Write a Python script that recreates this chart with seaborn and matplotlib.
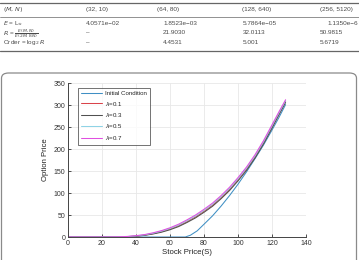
import matplotlib
matplotlib.use("Agg")
import matplotlib.pyplot as plt
import seaborn as sns
from matplotlib.patches import FancyBboxPatch
from matplotlib.lines import Line2D

sns.set_theme(style="white")
plt.rcParams["font.family"] = ["Liberation Sans", "DejaVu Sans"]
plt.rcParams["mathtext.fontset"] = "dejavusans"

# table data
col_heads = ["(32, 10)", "(64, 80)", "(128, 640)", "(256, 5120)"]
row_heads = [r"$E$ = L$_\infty$", r"$R$ = $\frac{E(M,N)}{E(2M,8N)}$", r"Order = log$_2$ $R$"]
err_vals = ["4.0571e\u221202", "1.8523e\u221203", "5.7864e\u221205", "1.1350e\u22126"]
ratio_vals = ["\u2013", "21.9030", "32.0113", "50.9815"]
order_vals = ["\u2013", "4.4531", "5.001", "5.6719"]

# curve data
s_init = [0, 69, 72, 76, 80, 85, 90, 95, 100, 105, 110, 115, 120, 124, 128]
v_init = [0, 0, 4, 14, 29, 48, 70, 94, 120, 148, 178, 209, 243, 271, 301]

s_lam = [0, 20, 25, 30, 35, 40, 45, 50, 55, 60, 65, 70, 75, 80, 85, 90, 95,
         100, 105, 110, 115, 120, 124, 128]
v_l01 = [0, 0, 0, 0.2, 0.9, 2.2, 4.3, 7.7, 12.1, 18, 25.4, 35, 45.6, 58.4, 72.2,
         89.2, 108, 130, 154, 182, 214, 250, 279, 308]
v_l03 = [0, 0, 0, 0.1, 0.7, 1.8, 3.7, 6.8, 10.9, 16.5, 23.6, 33, 43.4, 56.1, 69.8,
         86.8, 105.5, 127.5, 151.5, 179.5, 211.5, 247.5, 277, 306]
v_l05 = [0, 0, 0.1, 0.3, 1.1, 2.6, 4.9, 8.6, 13.3, 19.5, 27.2, 37, 47.8, 60.7, 74.6,
         91.6, 110.5, 132.5, 156.5, 184.5, 216.5, 252.5, 281.5, 310]
v_l07 = [0, 0, 0.1, 0.4, 1.3, 3, 5.5, 9.5, 14.5, 21, 29, 39, 50, 63, 77,
         94, 113, 135, 159, 187, 219, 255, 284, 312]

W, H = 359, 260
fig = plt.figure(figsize=(W / 100, H / 100), dpi=100)

def fy(py):
    return 1 - py / H

def fx(px):
    return px / W

# --- table ---
tcol = "#4a4a4a"
for y, lw in [(2.7, 0.9), (16.7, 0.5), (50.7, 0.9)]:
    fig.add_artist(Line2D([0, 1], [fy(y), fy(y)], color="#666666", lw=lw))

col_x = [86, 157, 242, 320]
fig.text(fx(3), fy(10), r"$(M, N)$", fontsize=4.6, color=tcol, va="center")
for x, t in zip(col_x, col_heads):
    fig.text(fx(x), fy(10), t, fontsize=4.6, color=tcol, va="center")

row_y = [23.5, 33, 42.5]
for yy, head in zip(row_y, row_heads):
    fig.text(fx(3), fy(yy), head, fontsize=4.6, color=tcol, va="center")
val_x_rows = [[86, 163, 243, 327], [86, 163, 243, 320], [86, 163, 243, 320]]
for yy, vals, xs in zip(row_y, [err_vals, ratio_vals, order_vals], val_x_rows):
    for x, v in zip(xs, vals):
        fig.text(fx(x), fy(yy), v, fontsize=4.6, color=tcol, va="center")

# --- rounded frame round the figure part ---
box = FancyBboxPatch((fx(1.5), fy(275)), fx(355), (275 - 73) / H,
                     boxstyle="round,pad=0,rounding_size=0.02",
                     transform=fig.transFigure, fc="none", ec="#8a8a8a", lw=0.9)
fig.add_artist(box)

# --- plot ---
ax = fig.add_axes([fx(68), fy(237), fx(306) - fx(68), (237 - 83) / H])
series = [
    (s_init, v_init, "Initial Condition", "#3f8fc4"),
    (s_lam, v_l01, r"$\lambda$=0.1", "#d9434a"),
    (s_lam, v_l03, r"$\lambda$=0.3", "#505050"),
    (s_lam, v_l05, r"$\lambda$=0.5", "#8fd3e6"),
    (s_lam, v_l07, r"$\lambda$=0.7", "#e04fe0"),
]
for xs, ys, lab, c in series:
    sns.lineplot(x=xs, y=ys, ax=ax, color=c, lw=0.75, label=lab)

ax.set_xlim(0, 140)
ax.set_ylim(0, 350)
ax.set_xticks(range(0, 141, 20))
ax.set_yticks(range(0, 351, 50))
ax.grid(True, color="#e8e8e8", lw=0.6)
for s in ["top", "right"]:
    ax.spines[s].set_visible(False)
for s in ["left", "bottom"]:
    ax.spines[s].set_color("#444444")
    ax.spines[s].set_linewidth(0.7)
ax.tick_params(axis="both", direction="in", length=2, width=0.6, labelsize=5,
               colors="#333333", pad=2, left=True, bottom=True)
ax.set_xlabel("Stock Price(S)", fontsize=5.6, color="#222222", labelpad=1.5)
ax.set_ylabel("Option Price", fontsize=5.6, color="#222222", labelpad=3)

leg = ax.legend(loc="upper left", bbox_to_anchor=(0.042, 0.968), fontsize=4.4,
                frameon=True, fancybox=False, handlelength=3.4, borderpad=0.5,
                labelspacing=0.55, handletextpad=0.6, borderaxespad=0)
leg.get_frame().set_edgecolor("#333333")
leg.get_frame().set_linewidth(0.6)
for t in leg.get_texts():
    t.set_color("#222222")

fig.savefig("out.png", dpi=100)
